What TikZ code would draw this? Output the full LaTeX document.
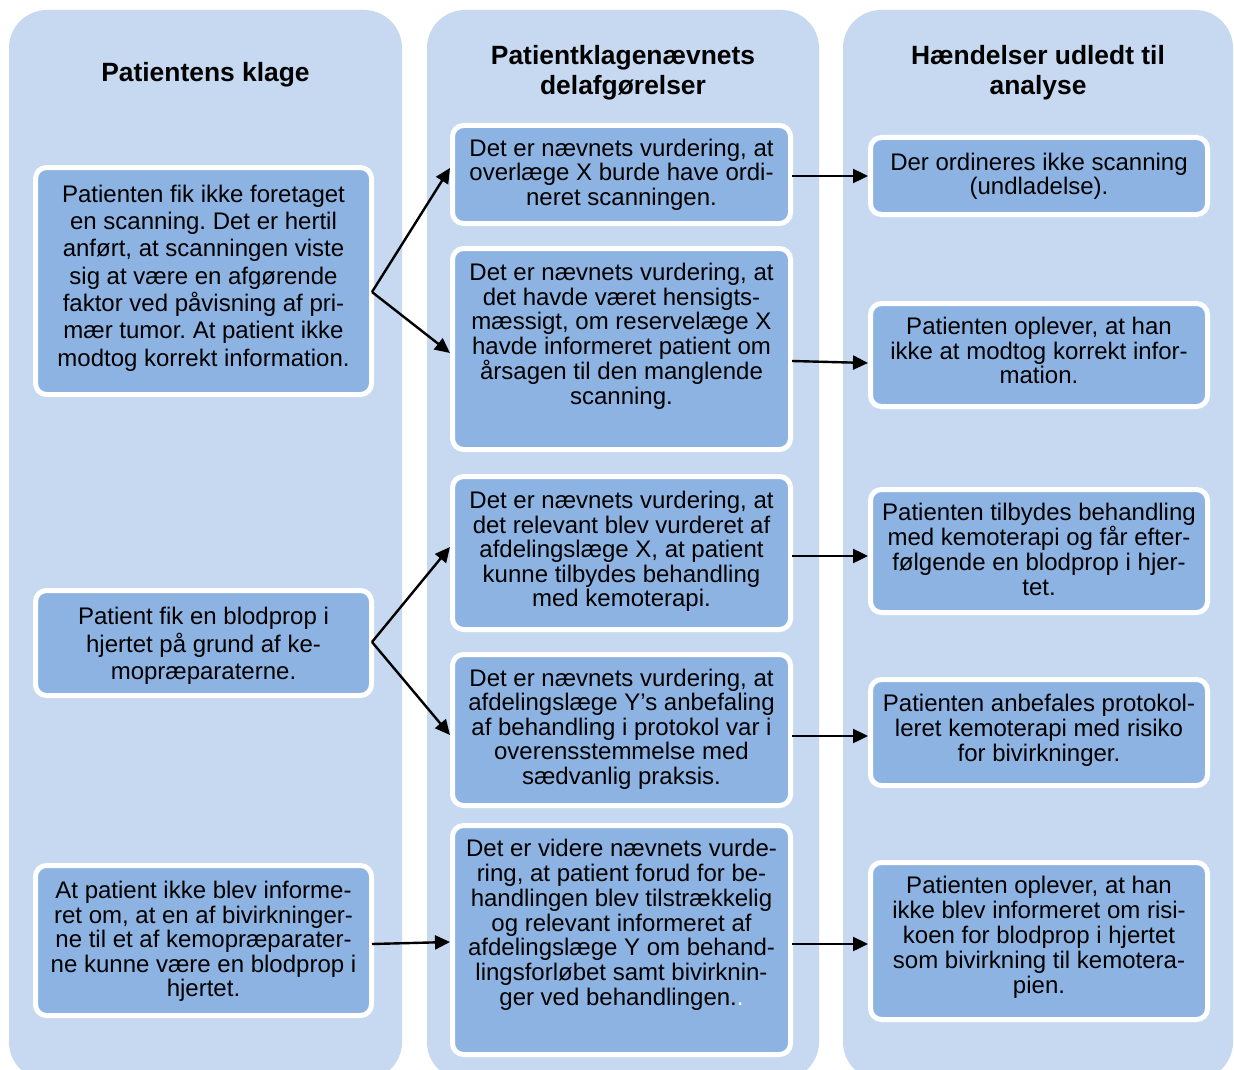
\documentclass[tikz,border=0pt]{standalone}
\usepackage{fontspec}
\setmainfont{Liberation Sans}
\usetikzlibrary{arrows.meta,calc}
\definecolor{colbg}{HTML}{C6D9F1}
\definecolor{boxbg}{HTML}{8DB3E2}
\frenchspacing
\newcommand\fl{\rule{0pt}{20pt}}
\tikzset{
  colfill/.style={fill=colbg, rounded corners=38pt},
  box/.style={draw=white, line width=5pt, fill=boxbg, rounded corners=11pt, inner sep=0pt},
  lbox/.style={box, minimum width=336pt},
  mbox/.style={box, minimum width=338pt},
  rbox/.style={box, minimum width=337pt},
  txt/.style={anchor=north, inner sep=0pt, align=center, text=black},
  ttl/.style={anchor=north, inner sep=0pt, align=center, text=black, font=\fontsize{26.4}{30}\selectfont\bfseries},
  arr/.style={draw=black, line width=2.4pt, -{Triangle[length=15pt,width=14pt]}}
}
\begin{document}
\begin{tikzpicture}[x=1pt,y=-1pt]
\useasboundingbox (0,0) rectangle (1234,1070);
\fill[white] (0,0) rectangle (1234,1070);
\clip (0,0) rectangle (1234,1070);
% columns
\fill[colfill] (9,10) rectangle (402,1080);
\fill[colfill] (427,10) rectangle (819,1080);
\fill[colfill] (843,10) rectangle (1233,1080);
% titles
\node[ttl] (t1) at (205.5,61.7) {\fl Patientens klage};
\node[ttl] (t2) at (623,44) {\fl Patientklagenævnets\\delafgørelser};
\node[ttl] (t3) at (1038,44) {\fl Hændelser udledt til\\analyse};
% boxes
\node[lbox, minimum height=227pt] (l1) at (203.5,281) {};
\node[lbox, minimum height=105pt] (l2) at (203.5,643) {};
\node[lbox, minimum height=150pt] (l3) at (203.5,940.5) {};
\node[mbox, minimum height=98pt] (m1) at (621.5,174.5) {};
\node[mbox, minimum height=201pt] (m2) at (621.5,349) {};
\node[mbox, minimum height=153pt] (m3) at (621.5,553) {};
\node[mbox, minimum height=151pt] (m4) at (621.5,730) {};
\node[mbox, minimum height=229pt] (m5) at (621.5,940) {};
\node[rbox, minimum height=77pt] (r1) at (1039,176) {};
\node[rbox, minimum height=103pt] (r2) at (1039,355) {};
\node[rbox, minimum height=123pt] (r3) at (1039,551) {};
\node[rbox, minimum height=106pt] (r4) at (1039,732.5) {};
\node[rbox, minimum height=157pt] (r5) at (1039,941) {};
% texts
\node[txt, font=\fontsize{24}{27.3}\selectfont] (l1t) at (203.5,182) {\fl Patienten fik ikke foretaget\\en scanning. Det er hertil\\anført, at scanningen viste\\sig at være en afgørende\\faktor ved påvisning af pri-\\mær tumor. At patient ikke\\modtog korrekt information.};
\node[txt, font=\fontsize{24}{27.5}\selectfont] (l2t) at (203.5,604.3) {\fl Patient fik en blodprop i\\hjertet på grund af ke-\\mopræparaterne.};
\node[txt, font=\fontsize{24}{24.6}\selectfont] (l3t) at (203.5,878.3) {\fl At patient ikke blev informe-\\ret om, at en af bivirkninger-\\ne til et af kemopræparater-\\ne kunne være en blodprop i\\hjertet.};
\node[txt, font=\fontsize{24}{24.5}\selectfont] (m1t) at (621.5,136) {\fl Det er nævnets vurdering, at\\overlæge X burde have ordi-\\neret scanningen.};
\node[txt, font=\fontsize{24}{24.8}\selectfont] (m2t) at (621.5,260) {\fl Det er nævnets vurdering, at\\det havde været hensigts-\\mæssigt, om reservelæge X\\havde informeret patient om\\årsagen til den manglende\\scanning.};
\node[txt, font=\fontsize{24}{24.6}\selectfont] (m3t) at (621.5,488.3) {\fl Det er nævnets vurdering, at\\det relevant blev vurderet af\\afdelingslæge X, at patient\\kunne tilbydes behandling\\med kemoterapi.};
\node[txt, font=\fontsize{24}{24.5}\selectfont] (m4t) at (621.5,666) {\fl Det er nævnets vurdering, at\\afdelingslæge Y’s anbefaling\\af behandling i protokol var i\\overensstemmelse med\\sædvanlig praksis.};
\node[txt, font=\fontsize{24}{24.7}\selectfont] (m5t) at (621.5,836.7) {\fl Det er videre nævnets vurde-\\ring, at patient forud for be-\\handlingen blev tilstrækkelig\\og relevant informeret af\\afdelingslæge Y om behand-\\lingsforløbet samt bivirknin-\\ger ved behandlingen.\textcolor{white}{.}};
\node[txt, font=\fontsize{24}{24.3}\selectfont] (r1t) at (1039,150) {\fl Der ordineres ikke scanning\\(undladelse).};
\node[txt, font=\fontsize{24}{24.5}\selectfont] (r2t) at (1039,314.3) {\fl Patienten oplever, at han\\ikke at modtog korrekt infor-\\mation.};
\node[txt, font=\fontsize{24}{24.8}\selectfont] (r3t) at (1039,500.7) {\fl Patienten tilbydes behandling\\med kemoterapi og får efter-\\følgende en blodprop i hjer-\\tet.};
\node[txt, font=\fontsize{24}{24.6}\selectfont] (r4t) at (1039,691.7) {\fl Patienten anbefales protokol-\\leret kemoterapi med risiko\\for bivirkninger.};
\node[txt, font=\fontsize{24}{25}\selectfont] (r5t) at (1039,873.3) {\fl Patienten oplever, at han\\ikke blev informeret om risi-\\koen for blodprop i hjertet\\som bivirkning til kemotera-\\pien.};
% connectors
\draw[arr] ($(l1.east)+(-2,11)$) -- ($(m1.west)+(0,-6.5)$);
\draw[arr] ($(l1.east)+(-2,11)$) -- ($(m2.west)+(0,4)$);
\draw[arr] ($(l2.east)+(-2,-1)$) -- ($(m3.west)+(0,-6)$);
\draw[arr] ($(l2.east)+(-2,-1)$) -- ($(m4.west)+(0,5)$);
\draw[arr] ($(l3.east)+(-2,3.5)$) -- ($(m5.west)+(0,2)$);
\draw[arr] ($(m1.east)+(-1,1.5)$) -- ($(r1.west)+(0,0)$);
\draw[arr] ($(m2.east)+(-1,12)$) -- ($(r2.west)+(0,8)$);
\draw[arr] ($(m3.east)+(-1,3)$) -- ($(r3.west)+(0,5)$);
\draw[arr] ($(m4.east)+(-1,6)$) -- ($(r4.west)+(0,3.5)$);
\draw[arr] ($(m5.east)+(-1,4)$) -- ($(r5.west)+(0,3)$);
\end{tikzpicture}
\end{document}
